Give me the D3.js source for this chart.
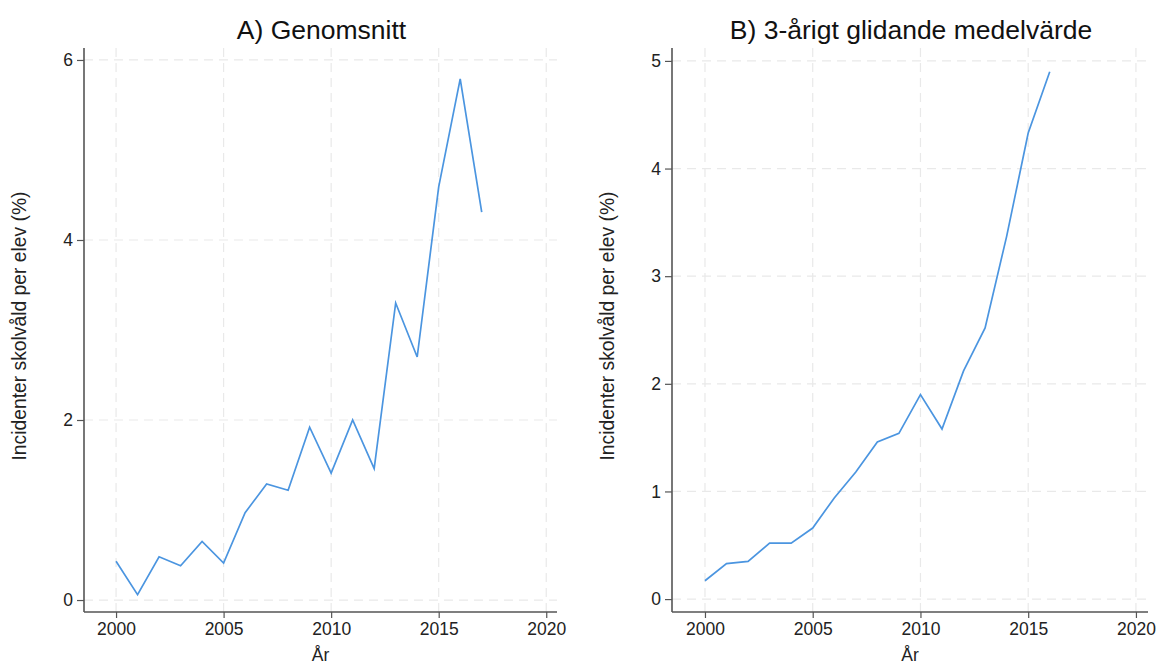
<!DOCTYPE html>
<html>
<head>
<meta charset="utf-8">
<script src="https://cdn.jsdelivr.net/npm/d3@7"></script>
<style>
  html, body { margin: 0; padding: 0; background: #fff; }
  svg { display: block; font-family: "Liberation Sans", Arial, Helvetica, sans-serif; }
</style>
</head>
<body>
<svg id="chart" width="1164" height="664"></svg>
<script>
// Years shared by both panels
const yearsA = [2000, 2001, 2002, 2003, 2004, 2005, 2006, 2007, 2008, 2009,
                2010, 2011, 2012, 2013, 2014, 2015, 2016, 2017];
// A) yearly average, incidents of school violence per pupil (%)
const avgValues = [0.43, 0.06, 0.48, 0.38, 0.65, 0.41, 0.97, 1.29, 1.22, 1.92,
                   1.41, 2.00, 1.46, 3.30, 2.70, 4.59, 5.79, 4.31];

const yearsB = [2000, 2001, 2002, 2003, 2004, 2005, 2006, 2007, 2008, 2009,
                2010, 2011, 2012, 2013, 2014, 2015, 2016];
// B) 3-year moving average
const maValues = [0.17, 0.33, 0.35, 0.52, 0.52, 0.66, 0.94, 1.18, 1.46, 1.54,
                  1.90, 1.58, 2.12, 2.52, 3.37, 4.33, 4.90];

const xTicks = [2000, 2005, 2010, 2015, 2020];
const yTicksA = [0, 2, 4, 6];
const yTicksB = [0, 1, 2, 3, 4, 5];

const titleA = "A) Genomsnitt";
const titleB = "B) 3-årigt glidande medelvärde";
const xTitle = "År";
const yTitle = "Incidenter skolvåld per elev (%)";

const svg = d3.select("#chart");
const lineColor = "#4b95e0";
const axisColor = "#555";
const gridColor = "#e9e9e9";
const textColor = "#222";

function drawPanel(opts) {
  const { left, right, top, bottom, xDomain, yDomain, years, values,
          yTicks, title, yTitleX } = opts;

  const x = d3.scaleLinear().domain(xDomain).range([left, right]);
  const y = d3.scaleLinear().domain(yDomain).range([bottom, top]);

  const g = svg.append("g");

  // dashed grid
  g.append("g").selectAll("line.h").data(yTicks).join("line")
    .attr("x1", left).attr("x2", right)
    .attr("y1", d => y(d)).attr("y2", d => y(d))
    .attr("stroke", gridColor).attr("stroke-width", 1.2)
    .attr("stroke-dasharray", "9,6");
  g.append("g").selectAll("line.v").data(xTicks).join("line")
    .attr("x1", d => x(d)).attr("x2", d => x(d))
    .attr("y1", top).attr("y2", bottom)
    .attr("stroke", gridColor).attr("stroke-width", 1.2)
    .attr("stroke-dasharray", "9,6");

  // axes
  const xAxis = d3.axisBottom(x).tickValues(xTicks).tickFormat(d3.format("d"))
    .tickSize(6).tickPadding(5).tickSizeOuter(0);
  const yAxis = d3.axisLeft(y).tickValues(yTicks).tickFormat(d3.format("d"))
    .tickSize(7).tickPadding(4).tickSizeOuter(0);

  const gx = g.append("g").attr("transform", `translate(0,${bottom})`).call(xAxis);
  const gy = g.append("g").attr("transform", `translate(${left},0)`).call(yAxis);
  [gx, gy].forEach(a => {
    a.select(".domain").attr("stroke", axisColor).attr("stroke-width", 1.6);
    a.selectAll(".tick line").attr("stroke", axisColor).attr("stroke-width", 1.2);
    a.selectAll(".tick text").attr("fill", textColor)
      .attr("font-size", 17.5).attr("font-family", "Liberation Sans, Arial, sans-serif");
  });
  // axis line spans the full plot region
  gx.select(".domain").attr("d", `M${left},0H${right}`);
  gy.select(".domain").attr("d", `M0,${bottom}V${top}`);

  // series line
  const line = d3.line().x((d, i) => x(years[i])).y(d => y(d));
  g.append("path").datum(values)
    .attr("d", line)
    .attr("fill", "none")
    .attr("stroke", lineColor)
    .attr("stroke-width", 1.7)
    .attr("stroke-linejoin", "miter");

  // titles
  g.append("text")
    .attr("x", (left + right) / 2 + 1).attr("y", 39)
    .attr("text-anchor", "middle").attr("font-size", 26.5)
    .attr("fill", "#111").text(title);
  g.append("text")
    .attr("x", (left + right) / 2).attr("y", 661)
    .attr("text-anchor", "middle").attr("font-size", 17.5)
    .attr("fill", textColor).text(xTitle);
  g.append("text")
    .attr("transform", `translate(${yTitleX},${(top + bottom) / 2 - 4}) rotate(-90)`)
    .attr("text-anchor", "middle").attr("font-size", 19.3)
    .attr("fill", textColor).text(yTitle);
}

drawPanel({
  left: 84, right: 557, top: 48, bottom: 612,
  xDomain: [1998.51, 2020.5], yDomain: [-0.133, 6.133],
  years: yearsA, values: avgValues, yTicks: yTicksA,
  title: titleA, yTitleX: 26
});

drawPanel({
  left: 672, right: 1148, top: 48, bottom: 612,
  xDomain: [1998.47, 2020.56], yDomain: [-0.12, 5.12],
  years: yearsB, values: maValues, yTicks: yTicksB,
  title: titleB, yTitleX: 614
});
</script>
</body>
</html>
